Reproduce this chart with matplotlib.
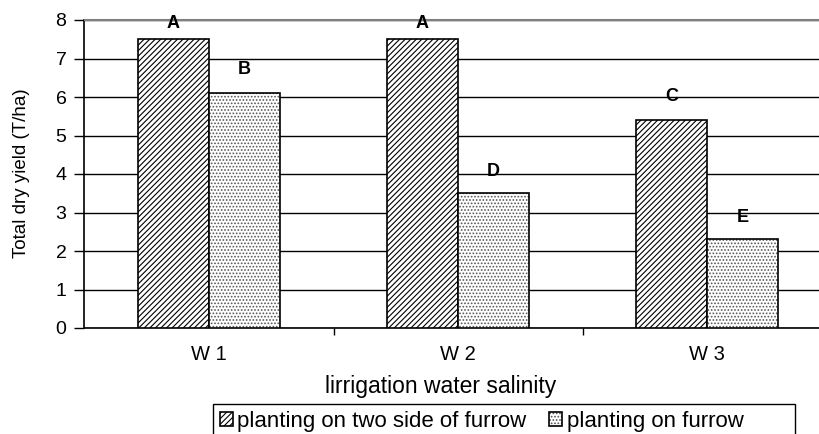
import matplotlib.pyplot as plt
import matplotlib as mpl
from matplotlib.patches import Rectangle
import numpy as np

mpl.rcParams['font.family'] = ['Liberation Sans', 'DejaVu Sans']
mpl.rcParams['hatch.linewidth'] = 0.8

categories = ['W1', 'W2', 'W3']
two_side = [7.5, 7.5, 5.4]
on_furrow = [6.1, 3.5, 2.3]
letters_two_side = ['A', 'A', 'C']
letters_on_furrow = ['B', 'D', 'E']
series_names = ['planting on two side of furrow', 'planting on furrow']

W, H = 820, 434
fig = plt.figure(figsize=(W / 100, H / 100), dpi=100)
# plot area: x 84.5..831.5 px (runs off the right edge), y 20..328 px
ax = fig.add_axes([84.5 / W, 1 - 328 / H, (831.5 - 84.5) / W, (328 - 20) / H])

x = np.arange(len(categories))
bw = 71 / 249
b1 = ax.bar(x - bw / 2, two_side, bw, facecolor='white', edgecolor='black',
            hatch='//////', linewidth=1.2, zorder=3)
b2 = ax.bar(x + bw / 2, on_furrow, bw, facecolor='white', edgecolor='black',
            hatch='.....', linewidth=1.2, zorder=3)
for c in b2:
    c._hatch_color = mpl.colors.to_rgba('#555555')

# letter gaps above the bars (in data units)
gap1 = [0.2, 0.2, 0.4]
gap2 = [0.4, 0.35, 0.35]
for i in range(len(categories)):
    ax.text(x[i] - bw / 2, two_side[i] + gap1[i], letters_two_side[i], ha='center',
            va='bottom', fontsize=13, fontweight='bold')
    ax.text(x[i] + bw / 2, on_furrow[i] + gap2[i], letters_on_furrow[i], ha='center',
            va='bottom', fontsize=13, fontweight='bold')

ax.set_xlim(-0.5, 2.5)
ax.set_ylim(0, 8)
ax.set_yticks(range(0, 9))
ax.yaxis.grid(True, color='black', linewidth=1.0, zorder=0)
ax.set_xticks(x)
ax.set_xticklabels([' '.join(list(c)) for c in categories], fontsize=14.5)
ax.set_xticks([0.5, 1.5], minor=True)
ax.tick_params(axis='x', which='major', length=0, pad=12)
ax.tick_params(axis='x', which='minor', length=5, width=1)
ax.tick_params(axis='y', length=7, width=1, labelsize=14, pad=6)

ax.spines['top'].set_visible(True)
ax.spines['top'].set_color('#808080')
ax.spines['top'].set_linewidth(1.5)
ax.spines['right'].set_visible(False)
ax.spines['left'].set_linewidth(1.2)
ax.spines['bottom'].set_linewidth(1.2)

fig.text(441 / W, 1 - 386 / H, 'lirrigation water salinity', ha='center',
         va='center', fontsize=16.5)
fig.text(22 / W, 1 - 173 / H, 'Total dry yield (T/ha)', rotation=90, ha='center',
         va='center', fontsize=13.5)

leg = fig.legend([b1, b2], series_names, loc='upper left',
                 bbox_to_anchor=(213 / W, 1 - 404 / H), ncol=2, frameon=False,
                 fontsize=16, handlelength=0.6, handleheight=0.6,
                 handletextpad=0.2, columnspacing=1.0, borderpad=0.3,
                 borderaxespad=0)

# legend frame, wider than its content and cut by the bottom edge
fig.patches.append(Rectangle((213 / W, -0.02), 582 / W, (434 - 404) / H + 0.02,
                             transform=fig.transFigure, fill=False,
                             edgecolor='black', linewidth=1.0))

fig.savefig('out.png', dpi=100)
